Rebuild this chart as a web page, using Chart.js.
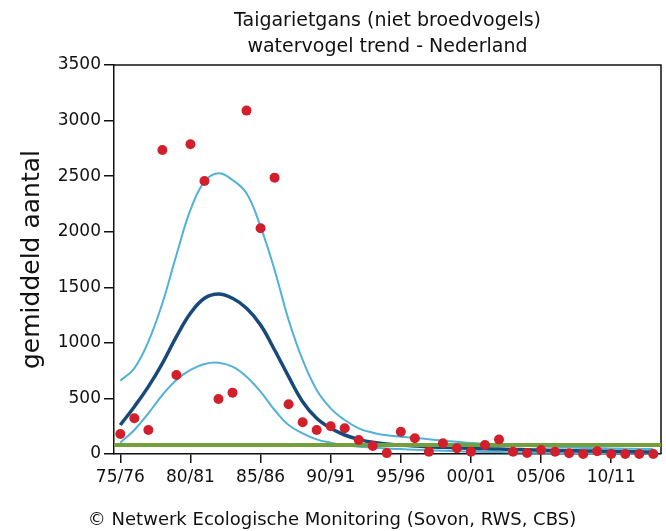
<!DOCTYPE html>
<html>
<head>
<meta charset="utf-8">
<script src="https://cdn.jsdelivr.net/npm/chart.js@4"></script>
<style>
  html, body { margin: 0; padding: 0; background: #ffffff; }
  #wrap { width: 666px; height: 531px; }
</style>
</head>
<body>
<div id="wrap"><canvas id="chart" width="666" height="531"></canvas></div>
<script>
// Seasons (winter counts) on the x axis
const seasons = [
  '75/76','76/77','77/78','78/79','79/80','80/81','81/82','82/83','83/84','84/85',
  '85/86','86/87','87/88','88/89','89/90','90/91','91/92','92/93','93/94','94/95',
  '95/96','96/97','97/98','98/99','99/00','00/01','01/02','02/03','03/04','04/05',
  '05/06','06/07','07/08','08/09','09/10','10/11','11/12','12/13','13/14'
];

// Seasons that get a labelled tick
const tickSeasons = ['75/76','80/81','85/86','90/91','95/96','00/01','05/06','10/11'];

// Observed seasonal mean counts
const observed = [
  180, 321, 216, 2736, 711, 2787, 2457, 495, 552, 3090,
  2031, 2487, 447, 285, 216, 249, 231, 126, 72, 8,
  200, 142, 21, 96, 51, 21, 81, 130, 21, 9,
  36, 21, 6, 0, 25, 0, 0, 0, 0
];

// Smoothed trend
const trend = [
  261, 426, 606, 816, 1056, 1266, 1401, 1440, 1401, 1311,
  1161, 936, 696, 471, 321, 231, 171, 132, 105, 90,
  80, 72, 65, 60, 55, 50, 47, 44, 41, 38,
  35, 32, 30, 28, 26, 24, 22, 20, 18
];

// Upper confidence limit of the trend
const upperLimit = [
  660, 771, 1011, 1356, 1791, 2196, 2451, 2526, 2466, 2346,
  2046, 1656, 1206, 846, 576, 411, 306, 231, 192, 168,
  156, 145, 132, 120, 110, 100, 92, 85, 78, 72,
  67, 62, 58, 55, 52, 50, 48, 46, 45
];

// Lower confidence limit of the trend
const lowerLimit = [
  102, 216, 366, 531, 666, 756, 810, 822, 786, 696,
  561, 396, 261, 186, 132, 102, 81, 66, 58, 50,
  44, 38, 33, 29, 25, 22, 19, 17, 15, 13,
  11, 10, 9, 8, 7, 6, 5, 5, 4
];

// Reference level drawn across the full width
const referenceLevel = 80;

// Axis range
const yTicks = [0, 500, 1000, 1500, 2000, 2500, 3000, 3500];
const xMin = -0.45;
const xMax = 38.55;

const toPoints = arr => arr.map((v, i) => ({ x: i, y: v }));

// Draws the top and right edges of the plot frame
const framePlugin = {
  id: 'plotFrame',
  beforeDatasetsDraw(chart) {
    const { ctx, chartArea: a } = chart;
    ctx.save();
    ctx.strokeStyle = '#111111';
    ctx.lineWidth = 1.5;
    ctx.beginPath();
    ctx.moveTo(a.left, a.top);
    ctx.lineTo(a.right, a.top);
    ctx.lineTo(a.right, a.bottom);
    ctx.stroke();
    ctx.restore();
  }
};

const FONT = "'DejaVu Sans', Verdana, sans-serif";

new Chart(document.getElementById('chart'), {
  type: 'line',
  data: {
    datasets: [
      {
        label: 'waarnemingen',
        type: 'scatter',
        data: toPoints(observed),
        backgroundColor: '#d1202b',
        borderWidth: 0,
        pointRadius: 5,
        pointHoverRadius: 5,
        clip: false,
        order: 0
      },
      {
        label: 'referentie',
        data: [{ x: xMin, y: referenceLevel }, { x: xMax, y: referenceLevel }],
        borderColor: '#74a03c',
        borderWidth: 4,
        pointRadius: 0,
        tension: 0,
        order: 1
      },
      {
        label: 'trend',
        data: toPoints(trend),
        borderColor: '#174a7b',
        borderWidth: 3.5,
        pointRadius: 0,
        tension: 0.4,
        order: 2
      },
      {
        label: 'bovengrens',
        data: toPoints(upperLimit),
        borderColor: '#52b1d9',
        borderWidth: 2,
        pointRadius: 0,
        tension: 0.4,
        order: 3
      },
      {
        label: 'ondergrens',
        data: toPoints(lowerLimit),
        borderColor: '#52b1d9',
        borderWidth: 2,
        pointRadius: 0,
        tension: 0.4,
        order: 3
      }
    ]
  },
  options: {
    responsive: false,
    animation: false,
    devicePixelRatio: 1,
    layout: { padding: { left: 0, right: 2, top: 0, bottom: 0 } },
    plugins: {
      legend: { display: false },
      tooltip: { enabled: false },
      title: {
        display: true,
        fullSize: false,
        text: ['Taigarietgans (niet broedvogels)', 'watervogel trend - Nederland'],
        color: '#111111',
        font: { family: FONT, size: 19, weight: 'normal', lineHeight: 1.37 },
        padding: { top: 8, bottom: 5 }
      },
      subtitle: {
        display: true,
        position: 'bottom',
        text: '© Netwerk Ecologische Monitoring (Sovon, RWS, CBS)',
        color: '#111111',
        font: { family: FONT, size: 18, weight: 'normal', lineHeight: 1.2 },
        padding: { top: 8, bottom: 0 }
      }
    },
    scales: {
      x: {
        type: 'linear',
        min: xMin,
        max: xMax,
        afterBuildTicks(scale) {
          scale.ticks = tickSeasons.map(s => ({ value: seasons.indexOf(s) }));
        },
        afterFit(scale) { scale.height = 47.4; },
        ticks: {
          callback: v => seasons[v],
          color: '#111111',
          font: { family: FONT, size: 17 },
          padding: 4,
          maxRotation: 0,
          autoSkip: false
        },
        grid: {
          drawOnChartArea: false,
          drawTicks: true,
          tickLength: 9,
          color: '#111111',
          lineWidth: 1.5
        },
        border: { display: true, color: '#111111', width: 1.5 }
      },
      y: {
        type: 'linear',
        min: 0,
        max: 3500,
        afterBuildTicks(scale) {
          scale.ticks = yTicks.map(v => ({ value: v }));
        },
        afterFit(scale) { scale.width = 114; },
        ticks: {
          callback: v => String(v),
          color: '#111111',
          font: { family: FONT, size: 17 },
          padding: 3
        },
        grid: {
          drawOnChartArea: false,
          drawTicks: true,
          tickLength: 10,
          color: '#111111',
          lineWidth: 1.5
        },
        border: { display: true, color: '#111111', width: 1.5 },
        title: {
          display: true,
          text: 'gemiddeld aantal',
          color: '#111111',
          font: { family: FONT, size: 25, weight: 'normal', lineHeight: 1.2 },
          padding: { top: 17, bottom: 0 }
        }
      }
    }
  },
  plugins: [framePlugin]
});
</script>
</body>
</html>
